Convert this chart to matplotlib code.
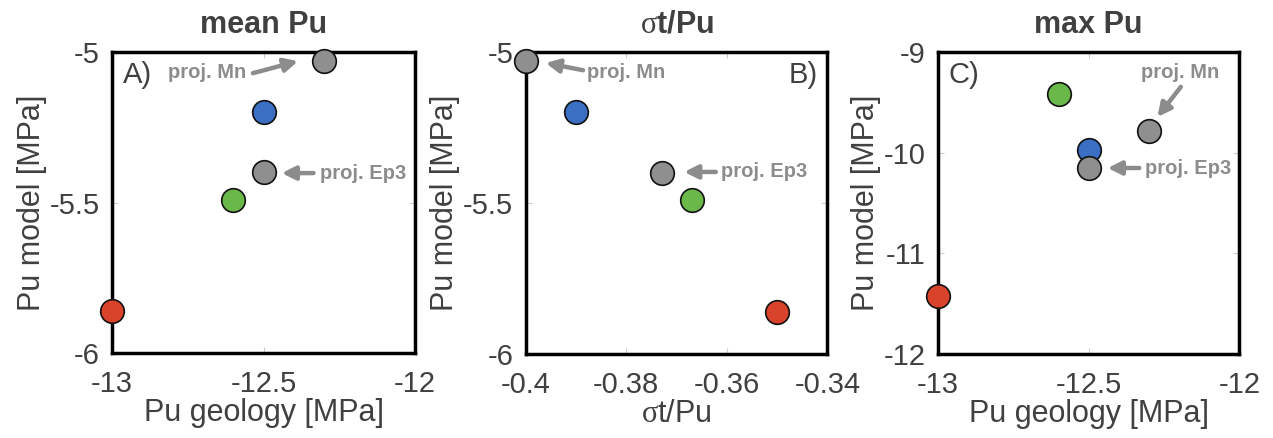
import matplotlib.pyplot as plt

plt.rcParams['font.family'] = ['Liberation Sans', 'DejaVu Sans']
plt.rcParams['mathtext.fontset'] = 'custom'
plt.rcParams['mathtext.rm'] = 'Liberation Serif'

# order: red, green, blue, grey (Ep3), grey (Mn)
colors = ['#d9432b', '#6ab84a', '#3a6fc4', '#8f8f8f', '#8f8f8f']

pu_geol_mean = [-13.0, -12.6, -12.5, -12.5, -12.3]
pu_model_mean = [-5.86, -5.49, -5.2, -5.4, -5.03]

sigma_t_pu = [-0.35, -0.367, -0.39, -0.373, -0.4]

pu_geol_max = [-13.0, -12.6, -12.5, -12.5, -12.3]
pu_model_max = [-11.42, -9.42, -9.97, -10.15, -9.78]

txt_col = '#404040'
ann_col = '#8c8c8c'

fig = plt.figure(figsize=(12.73, 4.38), dpi=100)
axA = fig.add_axes([0.088, 0.194, 0.238, 0.687])
axB = fig.add_axes([0.413, 0.192, 0.237, 0.689])
axC = fig.add_axes([0.737, 0.192, 0.2365, 0.689])


def style(ax, xlim, ylim, xticks, yticks, xticklabels, yticklabels):
    ax.set_xlim(xlim)
    ax.set_ylim(ylim)
    ax.set_xticks(xticks)
    ax.set_yticks(yticks)
    ax.set_xticklabels(xticklabels)
    ax.set_yticklabels(yticklabels)
    ax.tick_params(direction='in', length=4, width=0.8, color='#cccccc',
                   labelsize=21, labelcolor=txt_col, top=True, right=True)
    ax.tick_params(axis='x', pad=12)
    ax.tick_params(axis='y', pad=9)
    for s in ax.spines.values():
        s.set_linewidth(2.5)
        s.set_color('black')


def dots(ax, xs, ys):
    for x, y, c in zip(xs, ys, colors):
        ax.plot(x, y, 'o', ms=17, mfc=c, mec='#111111', mew=1.2,
                clip_on=False, zorder=5)


def arrow(ax, tail, head):
    ax.annotate('', xy=head, xytext=tail, xycoords='axes fraction',
                textcoords='axes fraction',
                arrowprops=dict(arrowstyle='-|>', color=ann_col, lw=3.2,
                                mutation_scale=20, shrinkA=0, shrinkB=0))


def note(ax, x, y, s, ha='left'):
    ax.text(x, y, s, transform=ax.transAxes, fontsize=14.5, fontweight='bold',
            color=ann_col, ha=ha, va='center')


# A) mean Pu
dots(axA, pu_geol_mean, pu_model_mean)
style(axA, (-13, -12), (-6, -5), [-13, -12.5, -12], [-6, -5.5, -5],
      ['-13', '-12.5', '-12'], ['-6', '-5.5', '-5'])
axA.set_title('mean Pu', fontsize=22, fontweight='bold', color=txt_col, pad=14)
axA.set_xlabel('Pu geology [MPa]', fontsize=22, color=txt_col, labelpad=0)
axA.set_ylabel('Pu model [MPa]', fontsize=22, color=txt_col, labelpad=2)
axA.text(0.035, 0.924, 'A)', transform=axA.transAxes, fontsize=21, color=txt_col,
         va='center')
note(axA, 0.185, 0.932, 'proj. Mn')
arrow(axA, (0.465, 0.93), (0.614, 0.97))
note(axA, 0.685, 0.598, 'proj. Ep3')
arrow(axA, (0.665, 0.598), (0.56, 0.598))

# B) sigma_t / Pu
dots(axB, sigma_t_pu, pu_model_mean)
style(axB, (-0.4, -0.34), (-6, -5), [-0.4, -0.38, -0.36, -0.34], [-6, -5.5, -5],
      ['-0.4', '-0.38', '-0.36', '-0.34'], ['-6', '-5.5', '-5'])
axB.set_title(r'$\mathrm{\sigma}$t/Pu', fontsize=22, fontweight='bold',
              color=txt_col, pad=14)
axB.set_xlabel(r'$\mathrm{\sigma}$t/Pu', fontsize=22, color=txt_col, labelpad=0)
axB.set_ylabel('Pu model [MPa]', fontsize=22, color=txt_col, labelpad=2)
axB.text(0.967, 0.924, 'B)', transform=axB.transAxes, fontsize=21, color=txt_col,
         va='center', ha='right')
note(axB, 0.204, 0.934, 'proj. Mn')
arrow(axB, (0.19, 0.94), (0.066, 0.964))
note(axB, 0.648, 0.603, 'proj. Ep3')
arrow(axB, (0.63, 0.603), (0.525, 0.603))

# C) max Pu
dots(axC, pu_geol_max, pu_model_max)
style(axC, (-13, -12), (-12, -9), [-13, -12.5, -12], [-12, -11, -10, -9],
      ['-13', '-12.5', '-12'], ['-12', '-11', '-10', '-9'])
axC.set_title('max Pu', fontsize=22, fontweight='bold', color=txt_col, pad=14)
axC.set_xlabel('Pu geology [MPa]', fontsize=22, color=txt_col, labelpad=0)
axC.set_ylabel('Pu model [MPa]', fontsize=22, color=txt_col, labelpad=2)
axC.text(0.033, 0.924, 'C)', transform=axC.transAxes, fontsize=21, color=txt_col,
         va='center')
note(axC, 0.804, 0.934, 'proj. Mn', ha='center')
arrow(axC, (0.806, 0.885), (0.728, 0.785))
note(axC, 0.688, 0.616, 'proj. Ep3')
arrow(axC, (0.668, 0.616), (0.563, 0.616))

fig.savefig('out.png', dpi=100)
